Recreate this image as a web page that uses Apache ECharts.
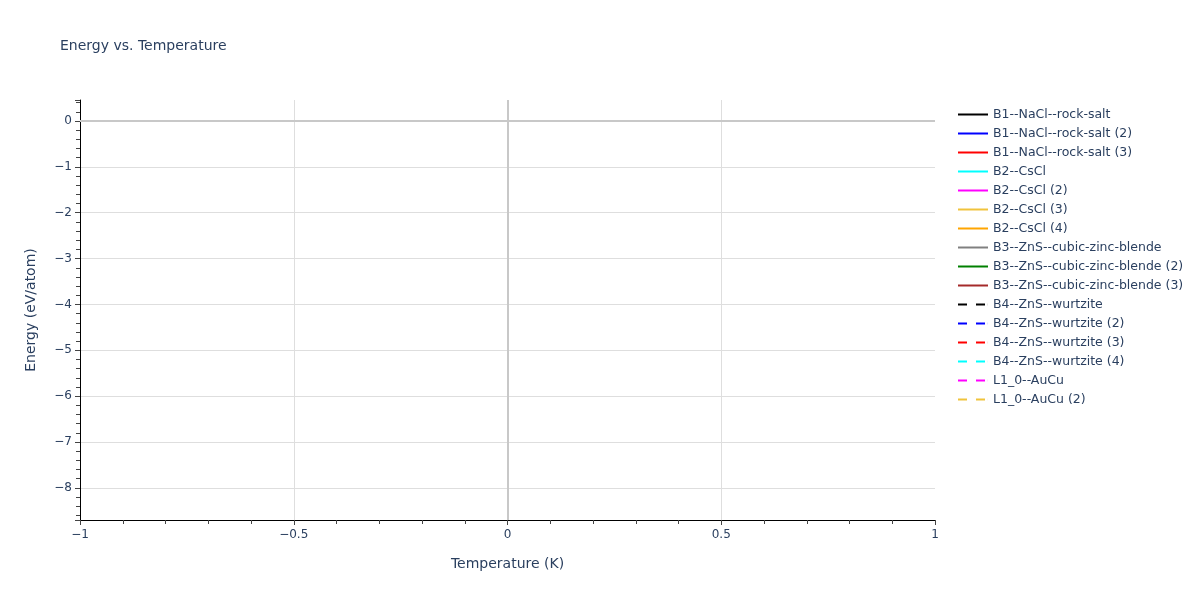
<!DOCTYPE html>
<html>
<head>
<meta charset="utf-8">
<script src="https://cdn.jsdelivr.net/npm/echarts@6/dist/echarts.min.js"></script>
<style>
  html, body { margin: 0; padding: 0; background: #fff; }
  #main { width: 1200px; height: 600px; }
</style>
</head>
<body>
<div id="main"></div>
<script>
// legend entries, one per structure (no points are plotted in the source)
var seriesNames = [
    'B1--NaCl--rock-salt', 'B1--NaCl--rock-salt (2)', 'B1--NaCl--rock-salt (3)',
    'B2--CsCl', 'B2--CsCl (2)', 'B2--CsCl (3)', 'B2--CsCl (4)',
    'B3--ZnS--cubic-zinc-blende', 'B3--ZnS--cubic-zinc-blende (2)', 'B3--ZnS--cubic-zinc-blende (3)',
    'B4--ZnS--wurtzite', 'B4--ZnS--wurtzite (2)', 'B4--ZnS--wurtzite (3)', 'B4--ZnS--wurtzite (4)',
    'L1_0--AuCu', 'L1_0--AuCu (2)'
];
var seriesColors = [
    'black', 'blue', 'red', 'cyan', 'magenta', '#f0c33c', 'orange',
    'gray', 'green', 'brown',
    'black', 'blue', 'red', 'cyan', 'magenta', '#f0c33c'
];
var seriesDashed = [
    false, false, false, false, false, false, false, false, false, false,
    true, true, true, true, true, true
];
// each series has no data in the picture
var seriesData = seriesNames.map(function () { return []; });

var xRange = [-1, 1];
var yRange = [-8.70, 0.458];
var zeroLines = [0];

var chartDom = document.getElementById('main');
var myChart = echarts.init(chartDom);
var option;

var fontFam = '"DejaVu Sans", Verdana, sans-serif';
var textCol = '#2a3f5f';
function minus(v) { return String(v).replace('-', '\u2212'); }

// legend swatches: a plain bar, or two dashes with a hairline end marker to keep the width
var solidIcon = 'path://M0,0h30v2h-30z';
var dashIcon = 'path://M0,0h9v2h-9z M18,0h9v2h-9z M29.9,0h0.1v2h-0.1z';

var series = seriesNames.map(function (name, i) {
    var s = {
        name: name,
        type: 'line',
        symbol: 'none',
        data: seriesData[i],
        lineStyle: {
            color: seriesColors[i],
            width: 2,
            type: seriesDashed[i] ? [9, 9] : 'solid'
        },
        itemStyle: { color: seriesColors[i] }
    };
    if (i === 0) {
        s.markLine = {
            silent: true,
            symbol: 'none',
            label: { show: false },
            lineStyle: { color: '#c8c8c8', width: 2, type: 'solid' },
            data: zeroLines.map(function (z) { return { yAxis: z }; })
                .concat(zeroLines.map(function (z) { return { xAxis: z }; }))
        };
    }
    return s;
});

option = {
    backgroundColor: '#fff',
    animation: false,
    title: {
        text: 'Energy vs. Temperature',
        left: 55,
        top: 34,
        textStyle: { fontFamily: fontFam, fontSize: 14, fontWeight: 'normal', color: textCol }
    },
    legend: {
        orient: 'vertical',
        left: 953,
        top: 102,
        itemWidth: 30,
        itemHeight: 2,
        itemGap: 4,
        data: seriesNames.map(function (name, i) {
            return {
                name: name,
                icon: seriesDashed[i] ? dashIcon : solidIcon,
                itemStyle: { color: seriesColors[i] }
            };
        }),
        textStyle: { fontFamily: fontFam, fontSize: 12.5, color: textCol, lineHeight: 15 }
    },
    grid: { left: 80, right: 265, top: 100, bottom: 80 },
    xAxis: {
        type: 'value',
        min: xRange[0],
        max: xRange[1],
        interval: 0.5,
        name: 'Temperature (K)',
        nameLocation: 'middle',
        nameGap: 37,
        nameTextStyle: { fontFamily: fontFam, fontSize: 14, color: textCol },
        axisLine: { onZero: false, lineStyle: { color: '#000', width: 1 } },
        axisTick: { show: true, length: 5, lineStyle: { color: '#444' } },
        minorTick: { show: true, splitNumber: 5, length: 4, lineStyle: { color: '#444' } },
        axisLabel: {
            margin: 9,
            fontFamily: fontFam, fontSize: 12, color: textCol,
            formatter: minus
        },
        splitLine: { show: true, showMinLine: false, showMaxLine: false, lineStyle: { color: '#dedede', width: 1 } }
    },
    yAxis: {
        type: 'value',
        min: yRange[0],
        max: yRange[1],
        splitNumber: 9,
        name: 'Energy (eV/atom)',
        nameLocation: 'middle',
        nameGap: 42,
        nameTextStyle: { fontFamily: fontFam, fontSize: 14, color: textCol },
        axisLine: { show: true, onZero: false, lineStyle: { color: '#000', width: 1 } },
        axisTick: { show: true, length: 5, lineStyle: { color: '#444' } },
        minorTick: { show: true, splitNumber: 5, length: 4, lineStyle: { color: '#444' } },
        axisLabel: {
            margin: 8,
            showMinLabel: false,
            showMaxLabel: false,
            fontFamily: fontFam, fontSize: 12, color: textCol,
            formatter: minus
        },
        splitLine: { show: true, showMinLine: false, showMaxLine: false, lineStyle: { color: '#dedede', width: 1 } }
    },
    series: series
};

option && myChart.setOption(option);
</script>
</body>
</html>
